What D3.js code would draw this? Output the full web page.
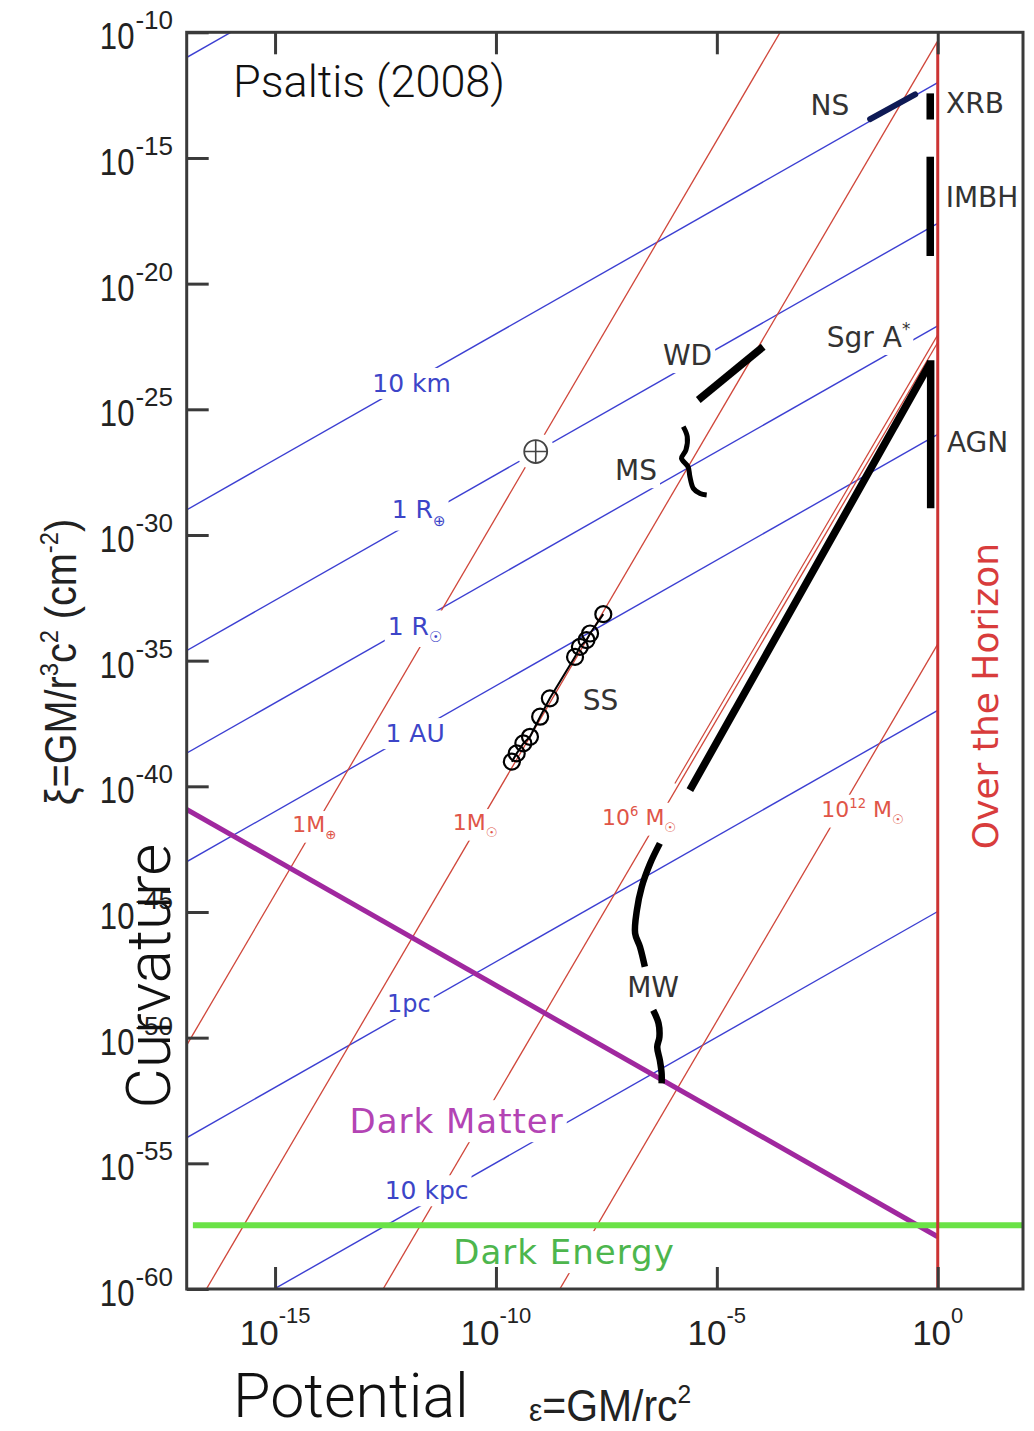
<!DOCTYPE html>
<html>
<head>
<meta charset="utf-8">
<script src="https://cdn.jsdelivr.net/npm/d3@7"></script>
<style>
  body { margin: 0; background: #fff; }
  svg { display: block; }
</style>
</head>
<body>
<svg id="chart"></svg>
<script>
// All values are log10 exponents
// potential eps = GM/rc^2 (x), curvature xi = GM/r^3c^2 in cm^-2 (y)
const xTickExps = [-15, -10, -5, 0];
const yTickExps = [-10, -15, -20, -25, -30, -35, -40, -45, -50, -55, -60];

// constant radius lines, log10(r / cm)
const radiusExps = [-3, 6, 8.8, 10.84, 13.0, 18.49, 22.49];
// constant mass lines, log10(GM/c^2 / cm): Earth, Sun, 1e6 Msun, 1e12 Msun
const massExps = [-0.35, 5.17, 11.17, 17.17];
// short extra red line next to the AGN track
const extraMassExps = [11.02];

// objects, [log eps, log xi]
const nsTrack = [[-1.53, -13.45], [-0.51, -12.47]];
const xrbBar = [[-0.17, -12.43], [-0.17, -13.47]];
const imbhBar = [[-0.17, -14.95], [-0.17, -18.9]];
const agnBar = [[-0.16, -23.05], [-0.16, -28.94]];
const agnTrack = [[-0.16, -23.12], [-5.61, -40.15]];
const wdTrack = [[-5.42, -24.63], [-3.95, -22.51]];
const msTrack = [[-5.76, -25.69], [-5.67, -26.09], [-5.70, -26.62], [-5.80, -26.95],
  [-5.65, -27.29], [-5.61, -27.68], [-5.53, -28.15], [-5.38, -28.35], [-5.23, -28.41]];
const mwUpper = [[-6.29, -42.27], [-6.51, -43.07], [-6.70, -44.00], [-6.81, -44.93],
  [-6.85, -45.85], [-6.74, -46.39], [-6.63, -47.18]];
const mwLower = [[-6.44, -48.91], [-6.32, -49.43], [-6.30, -49.97], [-6.35, -50.37],
  [-6.29, -50.90], [-6.25, -51.42], [-6.25, -51.82]];
const solarSystem = [[-7.57, -33.15], [-7.87, -33.92], [-7.95, -34.18], [-8.10, -34.45],
  [-8.21, -34.85], [-8.78, -36.50], [-9.00, -37.23], [-9.23, -38.03], [-9.38, -38.29],
  [-9.53, -38.69], [-9.64, -39.02]];
const earthPoint = [-9.10, -26.68];
const darkMatter = [[-17, -40.92], [0, -57.92]];
const darkEnergy = [[-16.86, -57.46], [1.93, -57.46]];
const horizon = [[0, -10.42], [0, -60]];

// Set size
const width = 1034;
const height = 1431;
const plotL = 186.7, plotR = 1023, plotT = 32.3, plotB = 1289;

const x = d3.scaleLog().domain([1e-17, 10 ** 1.93]).range([plotL, plotR]);
const y = d3.scaleLog().domain([1e-10, 1e-60]).range([plotT, plotB]);
const px = e => x(10 ** e);
const py = k => y(10 ** k);
const line = d3.line().x(d => px(d[0])).y(d => py(d[1]));

const svg = d3.select('#chart')
  .attr('width', width)
  .attr('height', height)
  .style('background', '#fff');

svg.append('clipPath').attr('id', 'plot')
  .append('rect')
  .attr('x', plotL).attr('y', plotT)
  .attr('width', plotR - plotL).attr('height', plotB - plotT);

const grid = svg.append('g').attr('clip-path', 'url(#plot)');

// constant radius: xi = eps / r^2
grid.selectAll('.radius')
  .data(radiusExps)
  .enter().append('path')
  .attr('class', 'radius')
  .attr('d', r => line([[-20, -20 - 2 * r], [0, -2 * r]]))
  .style('fill', 'none')
  .style('stroke', '#3c3fd2')
  .style('stroke-width', 1.4);

// constant mass: xi = eps^3 / (GM/c^2)^2
grid.selectAll('.mass')
  .data(massExps)
  .enter().append('path')
  .attr('class', 'mass')
  .attr('d', m => line([[-25, -75 - 2 * m], [0, -2 * m]]))
  .style('fill', 'none')
  .style('stroke', '#d0463a')
  .style('stroke-width', 1.3);

grid.selectAll('.mass-extra')
  .data(extraMassExps)
  .enter().append('path')
  .attr('class', 'mass-extra')
  .attr('d', m => line([[-5.95, -17.85 - 2 * m], [0, -2 * m]]))
  .style('fill', 'none')
  .style('stroke', '#d0463a')
  .style('stroke-width', 1.2);

// Labels sit on white boxes that break the lines
const labels = svg.append('g');

function richText(text, parts, size) {
  let shift = 0;
  parts.forEach(function (p) {
    const s = typeof p === 'string' ? { t: p } : p;
    const target = s.sup ? -0.42 * size : s.sub ? 0.3 * size : 0;
    const ts = text.append('tspan')
      .text(s.t || s.sup || s.sub)
      .attr('dy', target - shift);
    if (s.sup || s.sub) ts.attr('font-size', size * 0.6);
    shift = target;
  });
}

function addLabel(d) {
  const g = labels.append('g')
    .attr('transform', `translate(${px(d.at[0])},${py(d.at[1])})` + (d.rotate ? ` rotate(${d.rotate})` : ''));
  const t = g.append('text')
    .attr('text-anchor', 'middle')
    .attr('font-family', 'DejaVu Sans, Verdana, sans-serif')
    .attr('font-size', d.size)
    .attr('letter-spacing', d.spacing || 0)
    .style('fill', d.color);
  richText(t, d.parts, d.size);
  const b = t.node().getBBox();
  g.insert('rect', 'text')
    .attr('x', b.x - 3).attr('y', b.y - 1)
    .attr('width', b.width + 6).attr('height', b.height + 2)
    .style('fill', '#fff');
}

const blue = '#3c45c8', red = '#e05548', ink = '#333';
const annotations = [
  { parts: ['10 km'], at: [-11.91, -24.31], size: 25, color: blue },
  { parts: ['1 R', { sub: '⊕' }], at: [-11.75, -29.33], size: 25, color: blue },
  { parts: ['1 R', { sub: '☉' }], at: [-11.83, -33.96], size: 25, color: blue },
  { parts: ['1 AU'], at: [-11.83, -38.24], size: 25, color: blue },
  { parts: ['1pc'], at: [-11.97, -48.98], size: 24, color: blue },
  { parts: ['10 kpc'], at: [-11.57, -56.43], size: 25, color: blue },
  { parts: ['1M', { sub: '⊕' }], at: [-14.11, -41.82], size: 22, color: red },
  { parts: ['1M', { sub: '☉' }], at: [-10.47, -41.74], size: 22, color: red },
  { parts: ['10', { sup: '6' }, ' M', { sub: '☉' }], at: [-6.76, -41.54], size: 22, color: red },
  { parts: ['10', { sup: '12' }, ' M', { sub: '☉' }], at: [-1.70, -41.22], size: 22, color: red },
  { parts: ['NS'], at: [-2.44, -13.29], size: 28, color: ink },
  { parts: ['XRB'], at: [0.844, -13.21], size: 28, color: ink },
  { parts: ['IMBH'], at: [1.003, -16.95], size: 28, color: ink },
  { parts: ['Sgr A', { sup: '*' }], at: [-1.566, -22.52], size: 28, color: ink },
  { parts: ['WD'], at: [-5.663, -23.24], size: 28, color: ink },
  { parts: ['MS'], at: [-6.829, -27.82], size: 28, color: ink },
  { parts: ['AGN'], at: [0.901, -26.70], size: 28, color: ink },
  { parts: ['SS'], at: [-7.632, -36.97], size: 28, color: ink },
  { parts: ['MW'], at: [-6.444, -48.39], size: 28, color: ink },
  { parts: ['Dark Matter'], at: [-10.89, -53.80], size: 34, color: '#b344b4', spacing: 1 },
  { parts: ['Dark Energy'], at: [-8.459, -59.01], size: 34, color: '#4db64d', spacing: 1 },
  { parts: ['Over the Horizon'], at: [1.365, -36.41], size: 36, color: '#d83c3c', rotate: -90 }
];
annotations.forEach(addLabel);

// white disc round the Earth symbol
labels.append('circle')
  .attr('cx', px(earthPoint[0])).attr('cy', py(earthPoint[1]))
  .attr('r', 19).style('fill', '#fff');

// Dark matter, dark energy and the horizon
const bands = svg.append('g').attr('clip-path', 'url(#plot)');
bands.append('path').attr('d', line(darkMatter))
  .style('fill', 'none').style('stroke', '#a0289f').style('stroke-width', 5);
bands.append('path').attr('d', line(darkEnergy))
  .style('fill', 'none').style('stroke', '#6ae246').style('stroke-width', 6);
bands.append('path').attr('d', line(horizon))
  .style('fill', 'none').style('stroke', '#cc3333').style('stroke-width', 3);

// Objects
const marks = svg.append('g').style('fill', 'none');
marks.append('path').attr('d', line(nsTrack))
  .style('stroke', '#0e1a55').style('stroke-width', 6).style('stroke-linecap', 'round');
[xrbBar, imbhBar, agnBar].forEach(function (bar) {
  marks.append('path').attr('d', line(bar))
    .style('stroke', '#000').style('stroke-width', 7.5);
});
marks.append('path').attr('d', line(agnTrack))
  .style('stroke', '#000').style('stroke-width', 7.5);
marks.append('path').attr('d', line(wdTrack))
  .style('stroke', '#000').style('stroke-width', 7.5);
marks.append('path').attr('d', line.curve(d3.curveCatmullRom)(msTrack))
  .style('stroke', '#000').style('stroke-width', 5);
[mwUpper, mwLower].forEach(function (seg) {
  marks.append('path').attr('d', line(seg))
    .style('stroke', '#000').style('stroke-width', 6.5).style('stroke-linejoin', 'round');
});
line.curve(d3.curveLinear);

// Solar system planets
marks.append('path').attr('d', line(solarSystem))
  .style('stroke', '#000').style('stroke-width', 2);
marks.selectAll('.planet')
  .data(solarSystem)
  .enter().append('circle')
  .attr('class', 'planet')
  .attr('cx', d => px(d[0]))
  .attr('cy', d => py(d[1]))
  .attr('r', 8)
  .style('stroke', '#000')
  .style('stroke-width', 2.2);

// Earth symbol
const ex = px(earthPoint[0]), ey = py(earthPoint[1]);
marks.append('circle').attr('cx', ex).attr('cy', ey).attr('r', 11.5)
  .style('fill', '#fff').style('stroke', '#444').style('stroke-width', 1.8);
marks.append('path')
  .attr('d', `M${ex - 11.5},${ey}H${ex + 11.5}M${ex},${ey - 11.5}V${ey + 11.5}`)
  .style('stroke', '#444').style('stroke-width', 1.6);

// Frame and inward ticks
const axisColor = '#3a3a3a';
function styleAxis(g) {
  g.select('.domain').remove();
  g.selectAll('.tick line').style('stroke', axisColor).style('stroke-width', 3);
}
svg.append('g').attr('transform', `translate(${plotL},0)`)
  .call(d3.axisRight(y).tickValues(yTickExps.map(e => 10 ** e)).tickSize(22).tickFormat(''))
  .call(styleAxis);
svg.append('g').attr('transform', `translate(0,${plotB})`)
  .call(d3.axisTop(x).tickValues(xTickExps.map(e => 10 ** e)).tickSize(22).tickFormat(''))
  .call(styleAxis);
svg.append('g').attr('transform', `translate(0,${plotT})`)
  .call(d3.axisBottom(x).tickValues(xTickExps.map(e => 10 ** e)).tickSize(22).tickFormat(''))
  .call(styleAxis);
svg.append('rect')
  .attr('x', plotL).attr('y', plotT)
  .attr('width', plotR - plotL).attr('height', plotB - plotT)
  .style('fill', 'none').style('stroke', axisColor).style('stroke-width', 3);

// Tick labels as 10^n; the base "10" is set narrow like the original
const font = 'Liberation Sans, Arial, sans-serif';
svg.selectAll('.ylab')
  .data(yTickExps)
  .enter().append('g')
  .attr('class', 'ylab')
  .style('fill', '#222')
  .attr('font-family', font)
  .each(function (e) {
    const g = d3.select(this);
    const sup = g.append('text')
      .attr('x', 173).attr('y', py(e) - 3)
      .attr('text-anchor', 'end')
      .attr('font-size', 26)
      .text('-' + Math.abs(e));
    const w = sup.node().getComputedTextLength();
    g.append('text')
      .attr('transform', `translate(${173 - w - 1},${py(e) + 17}) scale(0.84,1)`)
      .attr('text-anchor', 'end')
      .attr('font-size', 37)
      .text('10');
  });

svg.selectAll('.xlab')
  .data(xTickExps)
  .enter().append('text')
  .attr('class', 'xlab')
  .attr('x', e => px(e))
  .attr('y', 1345)
  .attr('text-anchor', 'middle')
  .attr('font-family', font)
  .style('fill', '#222')
  .each(function (e) {
    const t = d3.select(this);
    t.append('tspan').text('10').attr('font-size', 35);
    t.append('tspan').text(e === 0 ? '0' : '-' + Math.abs(e))
      .attr('dy', -22).attr('font-size', 22);
  });

// Titles
svg.append('text')
  .attr('x', 233).attr('y', 97)
  .attr('font-family', 'Helvetica Neue, Roboto, Liberation Sans, sans-serif')
  .attr('font-weight', 300)
  .attr('font-size', 45)
  .style('fill', '#111')
  .text('Psaltis (2008)');

const yTitle = svg.append('text')
  .attr('transform', 'translate(76,662) rotate(-90) scale(0.9,1)')
  .attr('text-anchor', 'middle')
  .attr('font-family', font)
  .attr('font-size', 44)
  .style('fill', '#222');
richText(yTitle, [{ t: 'ξ=GM/r' }, { sup: '3' }, 'c', { sup: '2' }, ' (cm', { sup: '-2' }, ')'], 44);

const xTitle = svg.append('text')
  .attr('transform', 'translate(529,1421) scale(0.93,1)')
  .attr('font-family', font)
  .attr('font-size', 44)
  .style('fill', '#222');
xTitle.append('tspan').text('ε').attr('font-size', 32);
richText(xTitle, ['=GM/rc', { sup: '2' }], 44);

svg.append('text')
  .attr('transform', 'translate(170,976) rotate(-90)')
  .attr('text-anchor', 'middle')
  .attr('font-family', 'Helvetica Neue, Roboto, Liberation Sans, sans-serif')
  .attr('font-weight', 300)
  .attr('font-size', 62)
  .style('fill', '#111')
  .text('Curvature');

svg.append('text')
  .attr('x', 233).attr('y', 1417)
  .attr('font-family', 'Helvetica Neue, Roboto, Liberation Sans, sans-serif')
  .attr('font-weight', 300)
  .attr('font-size', 61)
  .style('fill', '#111')
  .text('Potential');
</script>
</body>
</html>
